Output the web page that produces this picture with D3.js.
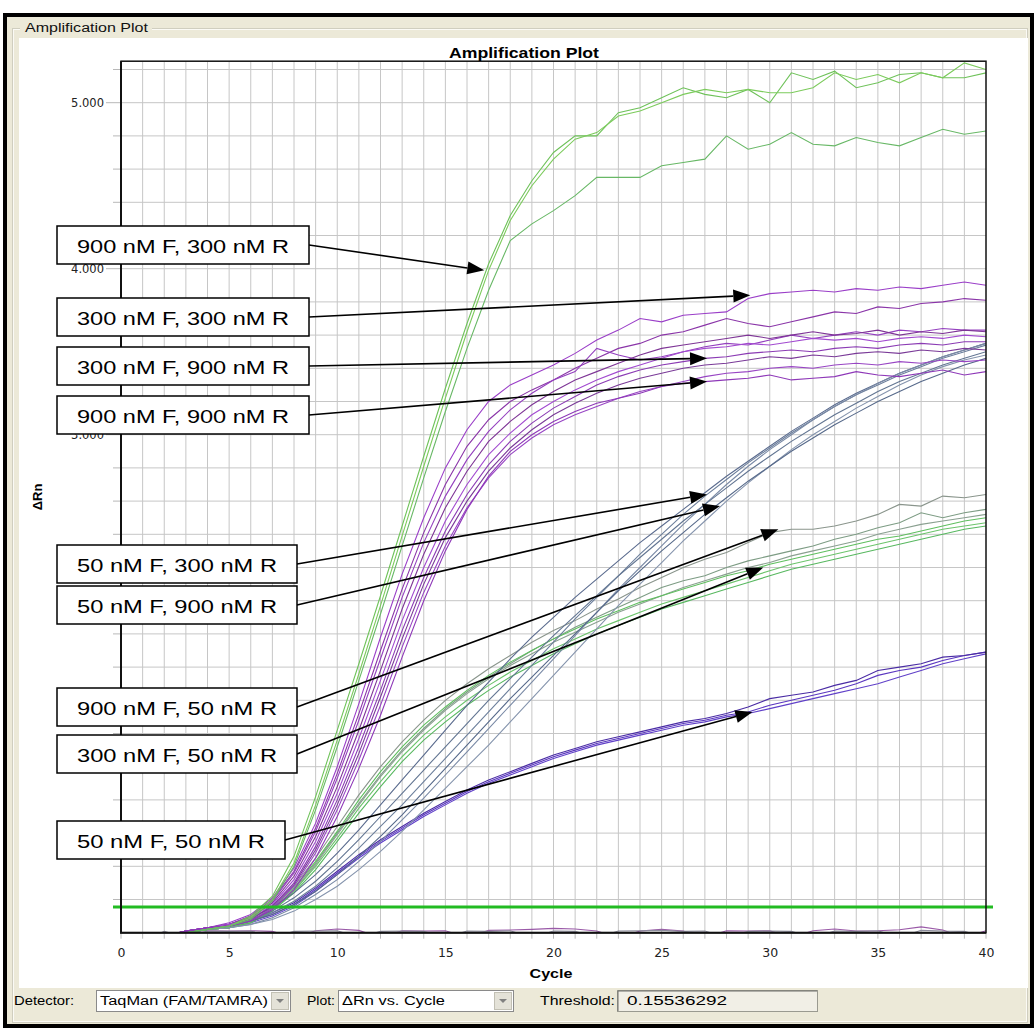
<!DOCTYPE html>
<html lang="en">
<head>
<meta charset="UTF-8">
<title>Amplification Plot</title>
<style>
  body { margin: 0; background: #fff; }
  svg { display: block; }
</style>
</head>
<body>
<svg id="chart" width="1036" height="1030"></svg>
<script src="https://cdnjs.cloudflare.com/ajax/libs/d3/7.8.5/d3.min.js"></script>
<script>
// cycles 1..40, ΔRn
var cycles = d3.range(1, 41);

// 900 nM F, 300 nM R
var f900r300_1 = [-0.04,-0.02,0.00,0.02,0.04,0.10,0.22,0.46,0.82,1.22, 1.62,2.03,2.45,2.87,3.28,3.67,4.03,4.32,4.53,4.70, 4.80,4.80,4.94,4.97,5.03,5.09,5.05,5.03,5.08,5.00, 5.18,5.14,5.19,5.09,5.12,5.17,5.18,5.15,5.15,5.18];
var f900r300_2 = [-0.04,-0.02,0.00,0.02,0.04,0.09,0.20,0.42,0.77,1.16, 1.56,1.97,2.39,2.81,3.22,3.62,3.99,4.29,4.50,4.66, 4.78,4.82,4.92,4.95,5.00,5.05,5.08,5.06,5.08,5.06, 5.06,5.09,5.18,5.14,5.17,5.12,5.18,5.15,5.24,5.20];
var f900r300_3 = [-0.04,-0.02,0.00,0.02,0.04,0.08,0.19,0.40,0.74,1.12, 1.52,1.92,2.33,2.74,3.14,3.52,3.87,4.17,4.27,4.35, 4.44,4.55,4.55,4.55,4.62,4.64,4.66,4.80,4.72,4.75, 4.82,4.75,4.74,4.79,4.76,4.74,4.79,4.84,4.81,4.83];

// 300/300, 300/900, 900/900 (purple bundle)
var purple_1 = [-0.03,-0.02,0.01,0.03,0.06,0.11,0.21,0.39,0.66,1.00, 1.38,1.78,2.16,2.50,2.80,3.03,3.20,3.30,3.36,3.42, 3.49,3.57,3.63,3.70,3.68,3.72,3.73,3.74,3.82,3.85, 3.86,3.87,3.86,3.88,3.87,3.89,3.88,3.90,3.92,3.90];
var purple_2 = [-0.03,-0.02,0.01,0.03,0.05,0.10,0.20,0.37,0.63,0.96, 1.32,1.70,2.07,2.41,2.70,2.93,3.09,3.20,3.27,3.33, 3.40,3.46,3.52,3.55,3.60,3.62,3.66,3.70,3.67,3.65, 3.68,3.71,3.74,3.73,3.77,3.76,3.79,3.80,3.82,3.81];
var purple_3 = [-0.03,-0.02,0.01,0.03,0.05,0.10,0.19,0.36,0.61,0.93, 1.28,1.65,2.02,2.35,2.63,2.85,3.02,3.15,3.25,3.33, 3.38,3.52,3.48,3.45,3.47,3.50,3.53,3.55,3.54,3.57, 3.60,3.58,3.60,3.62,3.60,3.63,3.62,3.64,3.63,3.63];
var purple_4 = [-0.03,-0.02,0.01,0.03,0.05,0.09,0.18,0.34,0.58,0.88, 1.22,1.58,1.95,2.28,2.56,2.78,2.96,3.08,3.18,3.26, 3.33,3.38,3.43,3.48,3.52,3.54,3.56,3.58,3.60,3.58, 3.60,3.62,3.60,3.61,3.63,3.60,3.62,3.61,3.63,3.62];
var purple_5 = [-0.03,-0.02,0.01,0.03,0.05,0.08,0.17,0.32,0.55,0.84, 1.17,1.52,1.88,2.20,2.48,2.70,2.88,3.01,3.12,3.20, 3.27,3.33,3.38,3.42,3.46,3.50,3.52,3.53,3.55,3.54, 3.56,3.58,3.57,3.58,3.56,3.58,3.59,3.58,3.60,3.59];
var purple_6 = [-0.03,-0.02,0.01,0.03,0.04,0.08,0.16,0.30,0.52,0.80, 1.12,1.46,1.82,2.14,2.42,2.64,2.82,2.96,3.07,3.16, 3.23,3.30,3.35,3.39,3.42,3.44,3.46,3.47,3.49,3.50, 3.51,3.50,3.52,3.53,3.52,3.54,3.55,3.54,3.56,3.56];
var purple_7 = [-0.03,-0.02,0.01,0.03,0.04,0.08,0.16,0.29,0.50,0.77, 1.08,1.42,1.77,2.10,2.38,2.60,2.78,2.92,3.03,3.12, 3.19,3.25,3.30,3.34,3.37,3.40,3.42,3.43,3.45,3.47, 3.46,3.48,3.47,3.49,3.50,3.49,3.51,3.50,3.52,3.51];
var purple_8 = [-0.03,-0.02,0.01,0.03,0.04,0.07,0.15,0.28,0.48,0.74, 1.04,1.37,1.72,2.05,2.33,2.56,2.74,2.88,2.98,3.06, 3.12,3.17,3.22,3.26,3.29,3.32,3.35,3.37,3.38,3.40, 3.41,3.40,3.42,3.43,3.42,3.44,3.43,3.45,3.44,3.45];
var purple_9 = [-0.03,-0.02,0.01,0.03,0.04,0.07,0.14,0.26,0.45,0.70, 0.99,1.31,1.66,2.00,2.30,2.55,2.75,2.90,3.00,3.08, 3.14,3.19,3.22,3.25,3.29,3.31,3.32,3.33,3.34,3.36, 3.33,3.34,3.35,3.38,3.36,3.35,3.37,3.39,3.36,3.38];

// 50 nM F with 300 / 900 nM R (slate)
var f50_1 = [-0.03,-0.02,0.00,0.02,0.04,0.07,0.12,0.19,0.28,0.39, 0.51,0.64,0.77,0.91,1.05,1.19,1.33,1.47,1.61,1.75, 1.89,2.02,2.15,2.28,2.40,2.52,2.63,2.73,2.83,2.92, 3.01,3.09,3.17,3.24,3.30,3.36,3.41,3.46,3.50,3.54];
var f50_2 = [-0.03,-0.02,0.00,0.02,0.05,0.09,0.15,0.24,0.35,0.48, 0.62,0.77,0.92,1.07,1.22,1.37,1.51,1.65,1.78,1.90, 2.02,2.13,2.24,2.35,2.45,2.55,2.65,2.75,2.84,2.93, 3.02,3.10,3.18,3.25,3.31,3.37,3.42,3.47,3.51,3.55];
var f50_3 = [-0.03,-0.02,0.00,0.02,0.03,0.05,0.09,0.15,0.23,0.32, 0.43,0.55,0.68,0.81,0.95,1.09,1.23,1.37,1.51,1.65, 1.79,1.93,2.07,2.20,2.33,2.46,2.58,2.70,2.81,2.91, 3.00,3.09,3.17,3.24,3.31,3.37,3.42,3.47,3.51,3.55];
var f50_4 = [-0.03,-0.02,0.00,0.02,0.04,0.08,0.13,0.21,0.31,0.43, 0.56,0.70,0.84,0.98,1.12,1.26,1.40,1.53,1.66,1.79, 1.91,2.03,2.15,2.26,2.37,2.48,2.58,2.68,2.78,2.87, 2.96,3.04,3.12,3.19,3.26,3.32,3.37,3.42,3.46,3.50];
var f50_5 = [-0.03,-0.02,0.00,0.02,0.03,0.05,0.08,0.13,0.20,0.28, 0.38,0.49,0.61,0.74,0.87,1.00,1.13,1.27,1.41,1.55, 1.69,1.83,1.97,2.10,2.23,2.36,2.48,2.60,2.71,2.81, 2.91,3.00,3.08,3.16,3.23,3.30,3.36,3.41,3.45,3.48];
var f50_6 = [-0.03,-0.02,0.00,0.02,0.04,0.07,0.11,0.17,0.25,0.35, 0.46,0.58,0.71,0.85,0.99,1.13,1.27,1.41,1.54,1.67, 1.80,1.93,2.06,2.18,2.30,2.41,2.52,2.62,2.72,2.81, 2.90,2.98,3.06,3.13,3.20,3.26,3.32,3.37,3.42,3.46];

// 900 / 300 nM F with 50 nM R
var r50_1 = [-0.03,-0.02,0.00,0.02,0.03,0.07,0.15,0.28,0.45,0.64, 0.83,1.00,1.15,1.28,1.40,1.50,1.59,1.67,1.75,1.82, 1.88,1.95,2.01,2.08,2.14,2.20,2.25,2.29,2.35,2.41, 2.43,2.43,2.45,2.48,2.52,2.58,2.57,2.63,2.62,2.64];
var r50_2 = [-0.03,-0.02,0.00,0.02,0.03,0.07,0.14,0.26,0.42,0.60, 0.78,0.95,1.10,1.23,1.35,1.45,1.54,1.62,1.70,1.77, 1.84,1.90,1.96,2.02,2.08,2.12,2.15,2.20,2.24,2.27, 2.30,2.33,2.37,2.40,2.44,2.47,2.53,2.50,2.53,2.55];
var r50_3 = [-0.03,-0.02,0.00,0.02,0.03,0.06,0.13,0.25,0.41,0.59, 0.77,0.94,1.09,1.22,1.34,1.44,1.53,1.61,1.68,1.75, 1.81,1.87,1.93,1.98,2.03,2.08,2.12,2.16,2.20,2.23, 2.27,2.30,2.33,2.36,2.40,2.43,2.46,2.48,2.50,2.52];
var r50_4 = [-0.03,-0.02,0.00,0.02,0.03,0.07,0.15,0.27,0.43,0.61, 0.80,0.97,1.12,1.25,1.36,1.46,1.55,1.63,1.70,1.77, 1.83,1.89,1.94,1.99,2.03,2.07,2.11,2.15,2.18,2.22, 2.25,2.28,2.31,2.34,2.37,2.39,2.42,2.45,2.48,2.50];
var r50_5 = [-0.03,-0.02,0.00,0.02,0.03,0.06,0.14,0.25,0.40,0.57, 0.75,0.91,1.06,1.19,1.30,1.40,1.49,1.57,1.64,1.71, 1.77,1.83,1.88,1.93,1.98,2.02,2.06,2.10,2.14,2.18, 2.22,2.25,2.28,2.31,2.34,2.37,2.40,2.43,2.45,2.47];
var r50_6 = [-0.03,-0.02,0.00,0.02,0.03,0.06,0.13,0.24,0.38,0.55, 0.72,0.88,1.03,1.16,1.27,1.37,1.46,1.54,1.61,1.68, 1.74,1.80,1.85,1.90,1.95,1.99,2.03,2.07,2.11,2.15, 2.19,2.22,2.25,2.28,2.31,2.34,2.37,2.40,2.43,2.45];

// 50 nM F, 50 nM R
var f50r50_1 = [-0.03,-0.02,0.00,0.02,0.04,0.07,0.11,0.17,0.26,0.36, 0.46,0.55,0.63,0.71,0.78,0.85,0.91,0.96,1.01,1.06, 1.10,1.14,1.17,1.20,1.23,1.26,1.28,1.31,1.33,1.37, 1.40,1.43,1.46,1.50,1.55,1.58,1.60,1.64,1.67,1.69];
var f50r50_2 = [-0.03,-0.02,0.00,0.02,0.04,0.07,0.12,0.18,0.27,0.37, 0.47,0.56,0.64,0.72,0.79,0.86,0.92,0.97,1.02,1.07, 1.11,1.15,1.18,1.21,1.24,1.27,1.29,1.32,1.36,1.41, 1.43,1.45,1.49,1.52,1.58,1.60,1.62,1.66,1.67,1.69];
var f50r50_3 = [-0.03,-0.02,0.00,0.02,0.03,0.06,0.10,0.16,0.25,0.35, 0.45,0.54,0.62,0.70,0.77,0.84,0.90,0.95,1.00,1.05, 1.09,1.13,1.16,1.19,1.22,1.25,1.27,1.30,1.32,1.35, 1.38,1.41,1.44,1.47,1.50,1.54,1.58,1.62,1.65,1.68];

// no-template controls
var ntc_1 = [-0.05,-0.05,0.010,0.012,0.010,0.012,0.008,-0.03,0.012,0.022, 0.014,-0.03,0.012,0.010,0.012,-0.03,0.014,0.016,0.020,0.026, 0.022,0.010,-0.03,0.010,0.020,0.010,-0.03,0.012,0.010,0.012, -0.03,0.012,0.022,0.010,0.012,0.018,0.035,0.016,-0.03,0.012];
var ntc_2 = [-0.05,0.008,-0.03,0.010,0.008,0.010,-0.03,0.008,0.010,0.012, -0.03,0.008,0.010,0.008,-0.03,0.010,0.008,0.012,-0.03,0.010, 0.008,-0.03,0.010,0.012,0.015,0.008,0.010,-0.03,0.008,0.010, 0.008,-0.03,0.010,0.008,0.012,-0.03,0.015,0.010,0.008,-0.03];

var threshold = 0.15536292;
var xTicks = [0, 5, 10, 15, 20, 25, 30, 35, 40];
// 1.000 and 2.000 sit under the note boxes in the reference, so only these show
var yTicks = [3, 4, 5];

// arrow labels: text, box top, where the arrow points (cycle, ΔRn)
var noteText = ["900 nM F, 300 nM R", "300 nM F, 300 nM R", "300 nM F, 900 nM R", "900 nM F, 900 nM R",
  "50 nM F, 300 nM R", "50 nM F, 900 nM R", "900 nM F, 50 nM R", "300 nM F, 50 nM R", "50 nM F, 50 nM R"];
var noteTop = [226, 298, 347, 396, 545, 586, 688, 735, 821];
var noteCycle = [16.8, 29.1, 27.1, 27.1, 27.1, 27.7, 30.4, 29.7, 29.2];
var noteValue = [3.99, 3.84, 3.46, 3.32, 2.64, 2.57, 2.43, 2.20, 1.33];

var series = [
  {v: ntc_1, c: "#9a5aa8"}, {v: ntc_2, c: "#8c8c9c"},
  {v: f50r50_1, c: "#5a36c0"}, {v: f50r50_2, c: "#4a2ca4"}, {v: f50r50_3, c: "#6040c8"},
  {v: r50_1, c: "#8a958c"}, {v: r50_2, c: "#7d9c84"}, {v: r50_3, c: "#8aa090"},
  {v: r50_4, c: "#5fbf5f"}, {v: r50_5, c: "#6cc46c"}, {v: r50_6, c: "#58b860"},
  {v: f50_1, c: "#6c7f9c"}, {v: f50_2, c: "#5a6b8e"}, {v: f50_3, c: "#7a8aa6"},
  {v: f50_4, c: "#627592"}, {v: f50_5, c: "#8594ad"}, {v: f50_6, c: "#56698a"},
  {v: purple_1, c: "#9a3ec8"}, {v: purple_2, c: "#8a35a8"}, {v: purple_3, c: "#9440bf"},
  {v: purple_4, c: "#7e3596"}, {v: purple_5, c: "#a24ad0"}, {v: purple_6, c: "#8b3bb4"},
  {v: purple_7, c: "#7a3a98"}, {v: purple_8, c: "#9845c4"}, {v: purple_9, c: "#8e38b8"},
  {v: f900r300_1, c: "#6fc25a"}, {v: f900r300_2, c: "#7ccb5c"}, {v: f900r300_3, c: "#68b866"}
];

var svg = d3.select("#chart");
var FONT = "'Liberation Sans', Arial, sans-serif";

function addText(parent, x, y, s, o) {
  var t = parent.append("text").attr("x", x).attr("y", y).text(s)
    .attr("font-family", o.family || FONT)
    .attr("font-size", o.size)
    .attr("fill", o.fill || "#000");
  if (o.weight) t.attr("font-weight", o.weight);
  if (o.anchor) t.attr("text-anchor", o.anchor);
  if (o.len) t.attr("textLength", o.len).attr("lengthAdjust", "spacingAndGlyphs");
  return t;
}

// window frame
svg.append("rect").attr("x", 5).attr("y", 15).attr("width", 1027).attr("height", 1011)
  .attr("fill", "#ece9d8").attr("stroke", "#000").attr("stroke-width", 4);
svg.append("rect").attr("x", 12.5).attr("y", 28.5).attr("width", 1015).attr("height", 994)
  .attr("fill", "none").attr("stroke", "#d0cebf");
svg.append("rect").attr("x", 13.5).attr("y", 29.5).attr("width", 1013).attr("height", 992)
  .attr("fill", "none").attr("stroke", "#fbfaf5");
svg.append("rect").attr("x", 20).attr("y", 21).attr("width", 132).attr("height", 14).attr("fill", "#ece9d8");
addText(svg, 25, 32, "Amplification Plot", {size: 12.5, len: 123, fill: "#111"});
svg.append("rect").attr("x", 19).attr("y", 38).attr("width", 1009).attr("height", 950).attr("fill", "#fff");

// scales
var x = d3.scaleLinear().domain([0, 40]).range([121, 986]);
var y = d3.scaleLinear().domain([0, 5.25]).range([932.7, 61.2]);

var plot = svg.append("g");

// grid
plot.append("g").selectAll("line").data(d3.range(1, 40)).join("line")
  .attr("x1", d => x(d)).attr("x2", d => x(d)).attr("y1", y(5.25)).attr("y2", y(0))
  .attr("stroke", "#c6c6c6").attr("stroke-width", 1);
plot.append("g").selectAll("line").data(d3.range(1, 27).map(d => d * 0.2)).join("line")
  .attr("x1", x(0)).attr("x2", x(40)).attr("y1", d => y(d)).attr("y2", d => y(d))
  .attr("stroke", "#c6c6c6").attr("stroke-width", 1);

// small ticks outside the frame
plot.append("g").selectAll("line").data(d3.range(1, 27).map(d => d * 0.2)).join("line")
  .attr("x1", d => Math.abs(d - Math.round(d)) < 1e-6 ? x(0) - 15 : x(0) - 8).attr("x2", x(0))
  .attr("y1", d => y(d)).attr("y2", d => y(d))
  .attr("stroke", "#b8b8b8");
plot.append("g").selectAll("line").data(d3.range(0, 41)).join("line")
  .attr("x1", d => x(d)).attr("x2", d => x(d)).attr("y1", y(0)).attr("y2", y(0) + 6)
  .attr("stroke", "#b8b8b8");

// curves
svg.append("clipPath").attr("id", "clip").append("rect")
  .attr("x", x(0)).attr("y", y(5.25)).attr("width", x(40) - x(0)).attr("height", y(0) - y(5.25));
var line = d3.line().x((d, i) => x(cycles[i])).y(d => y(d));
plot.append("g").attr("clip-path", "url(#clip)").selectAll("path").data(series).join("path")
  .attr("d", d => line(d.v)).attr("fill", "none")
  .attr("stroke", d => d.c).attr("stroke-width", 1.1);

// threshold
plot.append("line").attr("x1", x(0) - 8).attr("x2", x(40) + 7)
  .attr("y1", y(threshold)).attr("y2", y(threshold))
  .attr("stroke", "#22bb22").attr("stroke-width", 3);

// frame
plot.append("rect").attr("x", x(0)).attr("y", y(5.25)).attr("width", x(40) - x(0)).attr("height", y(0) - y(5.25))
  .attr("fill", "none").attr("stroke", "#111").attr("stroke-width", 1.5);
plot.append("path").attr("d", "M" + x(0) + "," + y(5.25) + "V" + y(0) + "H" + x(40))
  .attr("fill", "none").attr("stroke", "#111").attr("stroke-width", 2);

// axes labels
var gx = plot.append("g").attr("transform", "translate(0," + y(0) + ")")
  .call(d3.axisBottom(x).tickValues(xTicks).tickSize(0).tickPadding(15).tickFormat(d3.format("d")));
gx.select(".domain").remove();
gx.selectAll("text").attr("font-family", "'DejaVu Sans', sans-serif").attr("font-size", 12.5).attr("fill", "#222");

var gy = plot.append("g").attr("transform", "translate(" + x(0) + ",0)")
  .call(d3.axisLeft(y).tickValues(yTicks).tickSize(0).tickPadding(17).tickFormat(d3.format(".3f")));
gy.select(".domain").remove();
gy.selectAll("text").attr("font-family", "'DejaVu Sans', sans-serif").attr("font-size", 11.5).attr("fill", "#222");

addText(svg, 524, 58, "Amplification Plot", {size: 15, weight: "bold", anchor: "middle", len: 150});
addText(svg, 551, 978, "Cycle", {size: 13.5, weight: "bold", anchor: "middle", len: 43});
addText(svg, 0, 0, "ΔRn", {size: 13, weight: "bold", anchor: "middle"})
  .attr("transform", "translate(42,497) rotate(-90)");

// arrow notes
var notes = svg.append("g");
noteText.forEach(function (s, i) {
  var w = 12 * s.length + 36, top = noteTop[i], h = 38;
  var x0 = 57 + w, y0 = top + h / 2;
  var x1 = x(noteCycle[i]), y1 = y(noteValue[i]);
  var ang = Math.atan2(y1 - y0, x1 - x0), L = 17, H = 6.5;
  var bx = x1 - L * Math.cos(ang), by = y1 - L * Math.sin(ang);
  notes.append("line").attr("x1", x0).attr("y1", y0).attr("x2", bx).attr("y2", by)
    .attr("stroke", "#000").attr("stroke-width", 1.6);
  notes.append("path")
    .attr("d", "M" + x1 + "," + y1 +
      "L" + (bx + H * Math.sin(ang)) + "," + (by - H * Math.cos(ang)) +
      "L" + (bx - H * Math.sin(ang)) + "," + (by + H * Math.cos(ang)) + "Z")
    .attr("fill", "#000");
  notes.append("rect").attr("x", 57).attr("y", top).attr("width", w).attr("height", h)
    .attr("fill", "#fff").attr("stroke", "#000").attr("stroke-width", 1.5);
  addText(notes, 77, top + 27, s, {size: 19, len: w - 40});
});

// bottom toolbar
var bar = svg.append("g");
function combo(x0, w, label, len) {
  bar.append("rect").attr("x", x0 + 0.5).attr("y", 990.5).attr("width", w).attr("height", 21)
    .attr("fill", "#fff").attr("stroke", "#8a8a8a");
  addText(bar, x0 + 4, 1005, label, {size: 12, len: len});
  var bx = x0 + w - 19;
  bar.append("rect").attr("x", bx + 0.5).attr("y", 992.5).attr("width", 17).attr("height", 17)
    .attr("fill", "#e4e2d8").attr("stroke", "#c2c0b4");
  bar.append("path").attr("d", "M" + (bx + 5) + ",999h8l-4,4z").attr("fill", "#808080");
}
addText(bar, 14, 1005, "Detector:", {size: 12, len: 60});
combo(96, 194, "TaqMan (FAM/TAMRA)", 168);
addText(bar, 307, 1005, "Plot:", {size: 12, len: 28});
combo(338, 175, "ΔRn vs. Cycle", 103);
addText(bar, 540, 1005, "Threshold:", {size: 12, len: 75});
bar.append("rect").attr("x", 617.5).attr("y", 990.5).attr("width", 200).attr("height", 21)
  .attr("fill", "#f1efe6").attr("stroke", "#9a9a90");
bar.append("path").attr("d", "M618,1011V991H817").attr("fill", "none").attr("stroke", "#6f6f6a");
addText(bar, 627, 1005, "0.15536292", {size: 12, len: 100});
</script>
</body>
</html>
